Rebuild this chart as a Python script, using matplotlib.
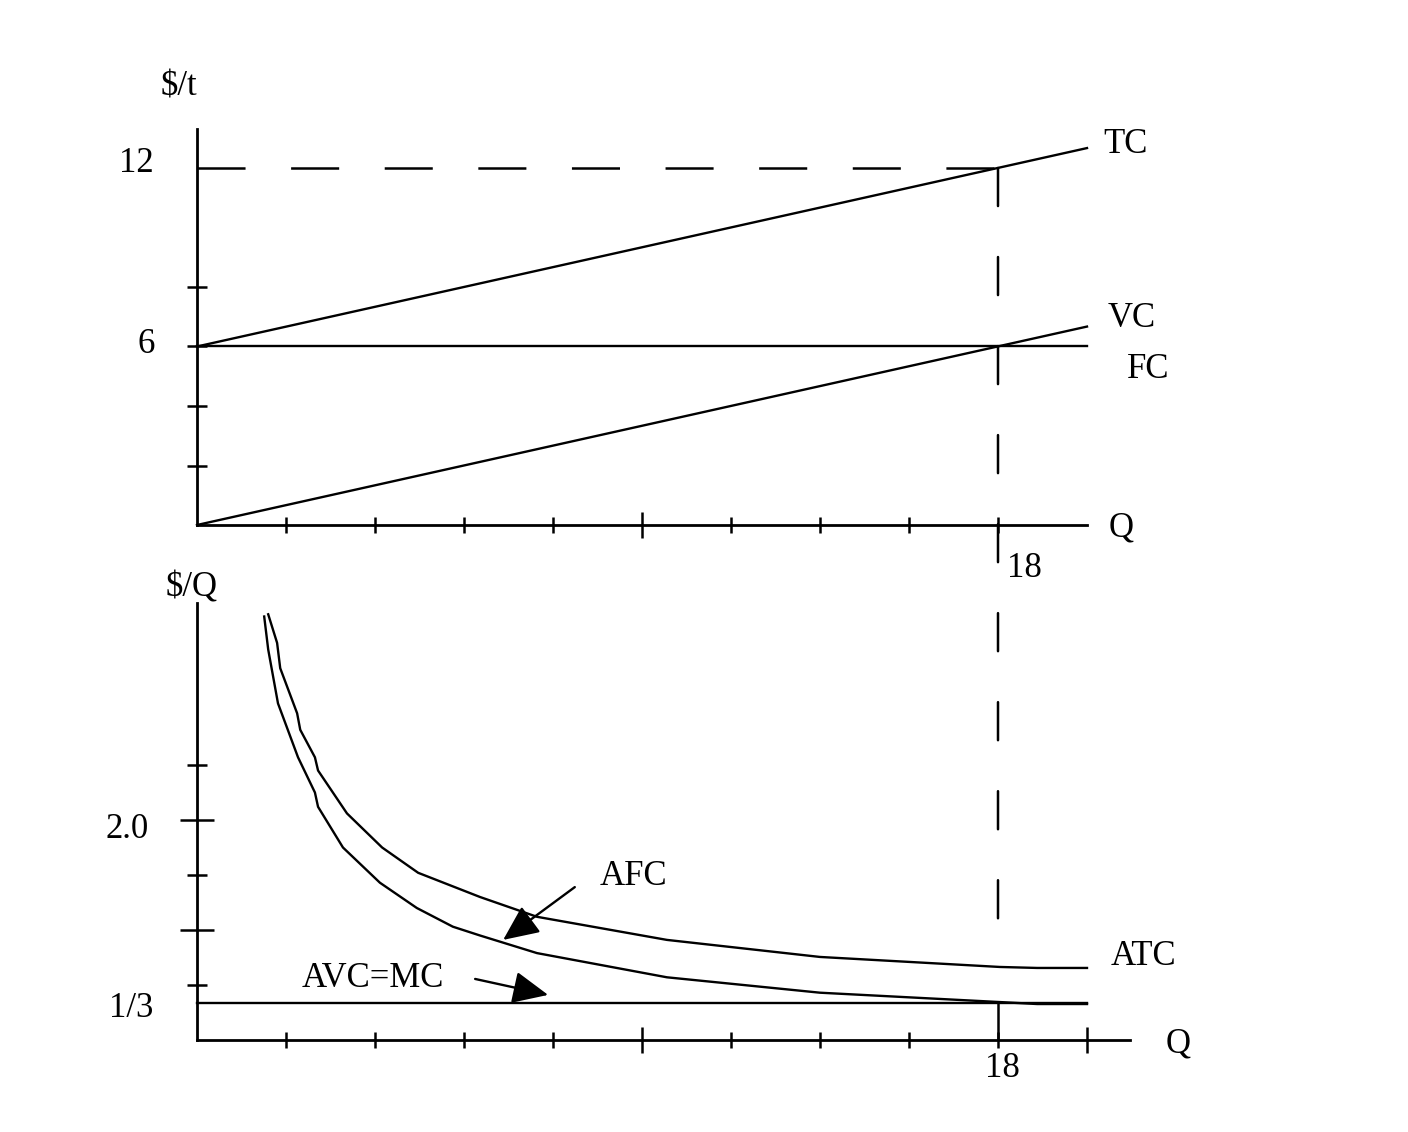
import matplotlib
matplotlib.use('Agg')
import matplotlib.pyplot as plt
from matplotlib.patches import ConnectionPatch

plt.rcParams['font.family'] = ['Liberation Serif', 'DejaVu Serif']
plt.rcParams['lines.scale_dashes'] = False

W, H = 1408, 1132
FS = 25

# top panel: total, variable and fixed cost ($/t)
q_ends = [0, 20]
tc = [6, 12.67]
vc = [0, 6.67]
fc = [6, 6]
q_star = 18
tc_star = 12

# bottom panel: per-unit costs ($/Q)
q_afc = [1.51, 1.60, 1.82, 2.27, 2.65, 2.72, 3.28, 4.11, 4.94, 5.75, 6.36,
         7.64, 10.56, 14.0, 18.04, 18.88, 20.0]
afc = [3.85, 3.55, 3.06, 2.57, 2.25, 2.12, 1.75, 1.43, 1.20, 1.03, 0.95,
       0.79, 0.57, 0.43, 0.345, 0.327, 0.327]
q_atc = [1.60, 1.80, 1.87, 2.25, 2.32, 2.65, 2.72, 3.37, 4.16, 4.97, 6.36,
         7.64, 10.56, 14.0, 18.04, 18.88, 20.0]
atc = [3.87, 3.61, 3.38, 2.97, 2.82, 2.57, 2.45, 2.06, 1.75, 1.52, 1.30,
       1.12, 0.91, 0.755, 0.664, 0.655, 0.655]
avc = 1 / 3

top_xminor = [2, 4, 6, 8, 12, 14, 16, 18]
top_xmajor = [10]
top_yticks = [2, 4, 6, 8]
bot_xminor = [2, 4, 6, 8, 12, 14, 16, 18]
bot_xmajor = [10, 20]
bot_yminor = [0.5, 1.5, 2.5]
bot_ymajor = [1, 2]

LW = 1.7
AXLW = 2.0


def px_box(x0, y0, x1, y1):
    # pixel box (y from top) -> figure fraction rect
    return [x0 / W, 1 - y1 / H, (x1 - x0) / W, (y1 - y0) / H]


def style_axes(ax):
    for s in ['top', 'right']:
        ax.spines[s].set_visible(False)
    for s in ['left', 'bottom']:
        ax.spines[s].set_linewidth(AXLW)
    ax.patch.set_alpha(0)
    ax.tick_params(which='both', direction='inout', width=1.8, color='k',
                   labelbottom=False, labelleft=False)


def label(s, x, y):
    fig.text(x / W, 1 - y / H, s, ha='center', va='baseline', fontsize=FS)


fig = plt.figure(figsize=(W / 100, H / 100), dpi=100)

# ---- top panel
ax1 = fig.add_axes(px_box(197, 129, 1087, 525))
ax1.set_xlim(0, 20)
ax1.set_ylim(0, 396 / 29.75)
style_axes(ax1)
ax1.set_xticks(top_xmajor)
ax1.set_xticks(top_xminor, minor=True)
ax1.set_yticks(top_yticks)
ax1.tick_params(axis='x', which='major', length=18.7)
ax1.tick_params(axis='x', which='minor', length=11.5)
ax1.tick_params(axis='y', which='major', length=14.4)

ax1.plot(q_ends, tc, color='k', lw=LW, clip_on=False)
ax1.plot(q_ends, vc, color='k', lw=LW, clip_on=False)
ax1.plot(q_ends, fc, color='k', lw=LW, clip_on=False)
ax1.hlines(tc_star, 0, q_star, colors='k', lw=1.8,
           linestyles=[(0, (34.6, 32.8))])

# ---- bottom panel
ax2 = fig.add_axes(px_box(197, 603, 1130, 1040))
ax2.set_xlim(0, 933 / 44.5)
ax2.set_ylim(0, 437 / 110)
style_axes(ax2)
ax2.set_xticks(bot_xmajor)
ax2.set_xticks(bot_xminor, minor=True)
ax2.set_yticks(bot_ymajor)
ax2.set_yticks(bot_yminor, minor=True)
ax2.tick_params(axis='x', which='major', length=18.7)
ax2.tick_params(axis='x', which='minor', length=11)
ax2.tick_params(axis='y', which='major', length=25)
ax2.tick_params(axis='y', which='minor', length=14.4)

ax2.plot(q_afc, afc, color='k', lw=LW, clip_on=False)
ax2.plot(q_atc, atc, color='k', lw=LW, clip_on=False)
ax2.plot(q_ends, [avc, avc], color='k', lw=LW, clip_on=False)
ax2.vlines(q_star, 0, avc, colors='k', lw=1.8)

# dashed drop line at Q=18 running through both panels
con = ConnectionPatch(xyA=(q_star, tc_star), coordsA=ax1.transData,
                      xyB=(q_star, 0.86), coordsB=ax2.transData,
                      color='k', lw=1.8, linestyle=(0, (27.4, 36.7)))
fig.add_artist(con)

arrow = dict(arrowstyle='-|>,head_length=22,head_width=10',
             mutation_scale=1, lw=LW, color='k', shrinkA=0, shrinkB=0)
ax2.annotate('', xy=(6.88, 0.91), xytext=(8.49, 1.39), arrowprops=arrow)
ax2.annotate('', xy=(7.89, 0.41), xytext=(6.25, 0.555), arrowprops=arrow)

# ---- text
label('$/t', 179, 95)
label('12', 136, 172)
label('6', 146, 353)
label('TC', 1126, 153)
label('VC', 1132, 327)
label('FC', 1148, 378)
label('Q', 1121, 537)
label('18', 1024, 577)
label('$/Q', 192, 597)
label('2.0', 127, 838)
label('1/3', 131, 1017)
label('AVC=MC', 373, 987)
label('AFC', 633, 885)
label('ATC', 1143, 965)
label('18', 1002, 1077)
label('Q', 1178, 1052)

fig.savefig('out.png', dpi=100)
